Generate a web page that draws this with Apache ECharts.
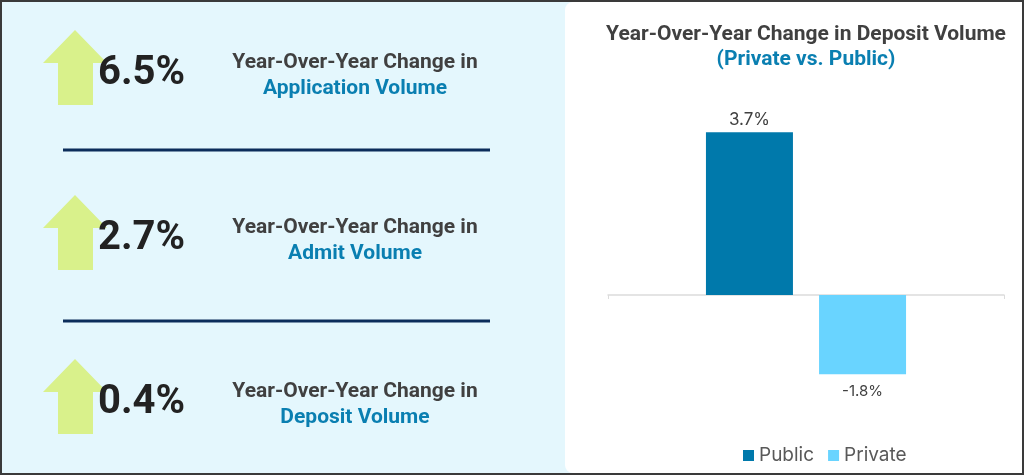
<!DOCTYPE html>
<html>
<head>
<meta charset="utf-8">
<script src="https://cdn.jsdelivr.net/npm/echarts@6/dist/echarts.min.js"></script>
<style>
  html, body { margin: 0; padding: 0; background: #fff; }
  #main { width: 1024px; height: 475px; }
</style>
</head>
<body>
<div id="main"></div>
<script>
// 左侧指标
var kpiValues = ['6.5%', '2.7%', '0.4%'];
var kpiHeading = 'Year-Over-Year Change in';
var kpiNames = ['Application Volume', 'Admit Volume', 'Deposit Volume'];

// 右侧柱状图
var categories = [''];
var seriesNames = ['Public', 'Private'];
var publicValues = [3.7];
var privateValues = [-1.8];

var rowTops = [30, 195, 359];
var dividerYs = [150, 321];

var graphics = [
  { type: 'rect', shape: { x: 0, y: 0, width: 1024, height: 475 }, style: { fill: '#e4f7fd' }, z: -10 },
  { type: 'rect', shape: { x: 565, y: 2, width: 457, height: 471, r: [8, 0, 0, 8] }, style: { fill: '#ffffff' }, z: -9 },
  { type: 'rect', shape: { x: 1, y: 1, width: 1022, height: 473 }, style: { fill: 'none', stroke: '#3a3a3a', lineWidth: 2 }, z: 10 }
];

rowTops.forEach(function (t, i) {
  graphics.push({
    type: 'polygon',
    shape: { points: [[43, t + 33], [75, t], [107, t + 33], [93, t + 33], [93, t + 75], [58, t + 75], [58, t + 33]] },
    style: { fill: '#d9f18b' }
  });
  graphics.push({
    type: 'text', x: 98, y: t + 44,
    style: { text: kpiValues[i], fill: '#222222', font: 'bold 40px Roboto', textVerticalAlign: 'middle' }
  });
  graphics.push({
    type: 'text', x: 355, y: t + 33,
    style: { text: kpiHeading, fill: '#404040', font: 'bold 21px Roboto', textAlign: 'center', textVerticalAlign: 'middle' }
  });
  graphics.push({
    type: 'text', x: 355, y: t + 59,
    style: { text: kpiNames[i], fill: '#0a7fb1', font: 'bold 21px Roboto', textAlign: 'center', textVerticalAlign: 'middle' }
  });
});

dividerYs.forEach(function (y) {
  graphics.push({
    type: 'line', shape: { x1: 63, y1: y, x2: 490, y2: y },
    style: { stroke: '#0b2d5b', lineWidth: 3 }
  });
});

var myChart = echarts.init(document.getElementById('main'));
myChart.setOption({
  animation: false,
  graphic: graphics,
  title: {
    text: 'Year-Over-Year Change in Deposit Volume',
    subtext: '(Private vs. Public)',
    left: 801, top: 19, textAlign: 'center', itemGap: 4,
    textStyle: { fontFamily: 'Roboto', fontWeight: 'bold', fontSize: 21, color: '#404040' },
    subtextStyle: { fontFamily: 'Roboto', fontWeight: 'bold', fontSize: 21, color: '#0a7fb1' }
  },
  legend: {
    data: seriesNames,
    left: 738, top: 441,
    itemWidth: 11, itemHeight: 11, itemGap: 14,
    icon: 'rect',
    textStyle: { fontFamily: 'Inter', fontSize: 19, color: '#595959' }
  },
  grid: { left: 608, right: 20, top: 119, bottom: 92 },
  xAxis: {
    type: 'category',
    data: categories,
    axisLine: { lineStyle: { color: '#dcdcdc', width: 1.5 } },
    axisTick: { show: true, length: 4, lineStyle: { color: '#dcdcdc' } },
    axisLabel: { show: false }
  },
  yAxis: {
    type: 'value', min: -2, max: 4,
    show: false,
    splitLine: { show: false }
  },
  series: [
    {
      name: seriesNames[0], type: 'bar', data: publicValues,
      barWidth: 87, barGap: '30%',
      itemStyle: { color: '#0079ab' },
      label: { show: true, position: 'top', distance: 4, formatter: '{c}%', fontFamily: 'Inter', fontSize: 17, color: '#404040' }
    },
    {
      name: seriesNames[1], type: 'bar', data: privateValues,
      barWidth: 87,
      itemStyle: { color: '#69d4ff' },
      label: { show: true, position: 'bottom', distance: 10, formatter: '{c}%', fontFamily: 'Inter', fontSize: 15, color: '#404040' }
    }
  ]
});
</script>
</body>
</html>
